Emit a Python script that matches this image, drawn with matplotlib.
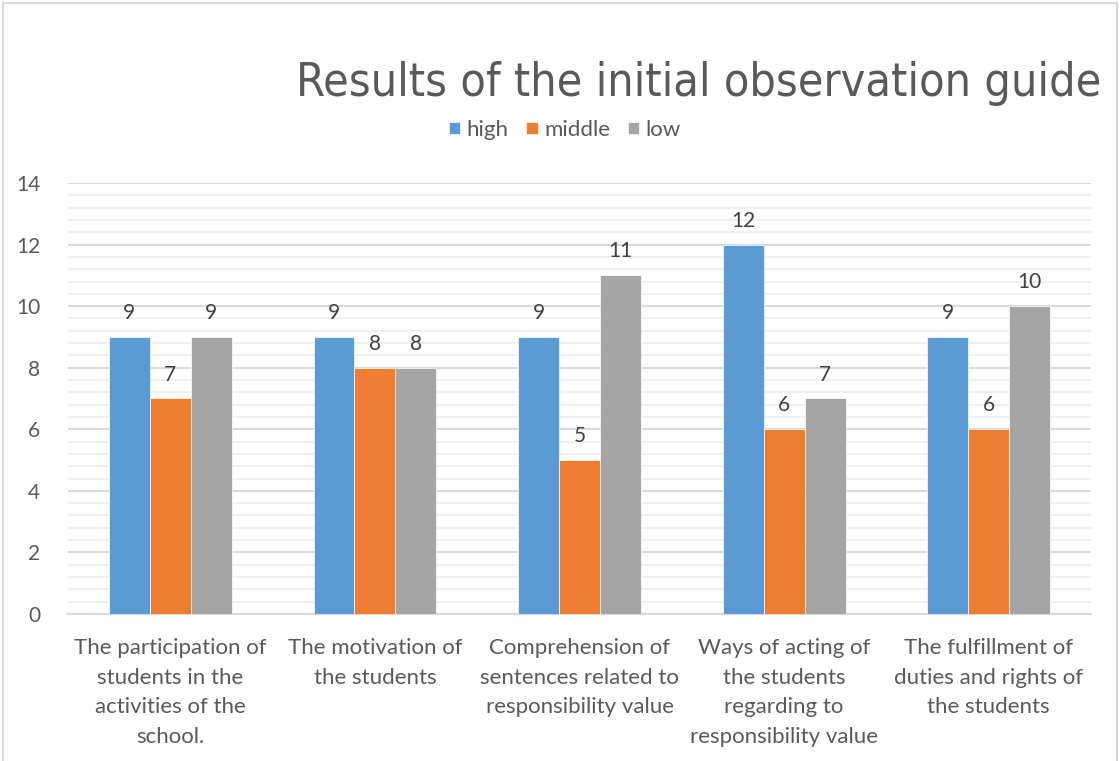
import numpy as np
import matplotlib.pyplot as plt
from matplotlib.patches import Rectangle
from matplotlib.ticker import MultipleLocator

categories = [
    "The participation of\nstudents in the\nactivities of the\nschool.",
    "The motivation of\nthe students",
    "Comprehension of\nsentences related to\nresponsibility value",
    "Ways of acting of\nthe students\nregarding to\nresponsibility value",
    "The fulfillment of\nduties and rights of\nthe students",
]
series_names = ["high", "middle", "low"]
high = [9, 9, 9, 12, 9]
middle = [7, 8, 5, 6, 6]
low = [9, 8, 11, 7, 10]

colors = ["#5B9BD5", "#ED7D31", "#A5A5A5"]
text_color = "#595959"
plt.rcParams['font.family'] = ['Lato', 'DejaVu Sans']

fig = plt.figure(figsize=(11.19, 7.61), dpi=100)
ax = fig.add_axes([0.0608, 0.1932, 0.9142, 0.5663])

# outer chart frame
fig.patches.append(Rectangle((3 / 1119, -0.1), 1114 / 1119, 1.1 - 3 / 761,
                             transform=fig.transFigure, fill=False,
                             edgecolor="#D9D9D9", linewidth=1.5))

x = np.arange(len(categories))
width = 0.2
for i, (vals, name) in enumerate(zip([high, middle, low], series_names)):
    bars = ax.bar(x + (i - 1) * width, vals, width, color=colors[i], label=name,
                  edgecolor="white", linewidth=0.5, zorder=3)
    for b, v in zip(bars, vals):
        ax.annotate(str(v), (b.get_x() + b.get_width() / 2, v),
                    xytext=(0, 10), textcoords="offset points",
                    ha="center", va="bottom", fontsize=15, color="#404040")

ax.set_xlim(-0.5, len(categories) - 0.5)
ax.set_ylim(0, 14)
ax.yaxis.set_major_locator(MultipleLocator(2))
ax.yaxis.set_minor_locator(MultipleLocator(0.4))
ax.grid(axis="y", which="major", color="#D9D9D9", linewidth=1.5, zorder=0)
ax.grid(axis="y", which="minor", color="#F0F0F0", linewidth=1.5, zorder=0)
for s in ["left", "right", "top"]:
    ax.spines[s].set_visible(False)
ax.spines["bottom"].set_color("#D9D9D9")
ax.spines["bottom"].set_linewidth(1.5)

ax.set_xticks(x)
ax.set_xticklabels(categories, fontsize=16, color=text_color, linespacing=1.62)
ax.tick_params(axis="x", length=0, pad=17)
ax.tick_params(axis="y", which="both", length=0, pad=20, labelsize=15,
               labelcolor=text_color)

fig.text(296 / 1119, 1 - 96 / 761, "Results of the initial observation guide",
         fontsize=33.5, color=text_color, ha="left", va="baseline",
         family=['Liberation Sans Narrow', 'DejaVu Sans'], fontstretch="condensed")

fig.legend(loc="center", bbox_to_anchor=(565 / 1119, 1 - 130 / 761), ncol=3,
           frameon=False, fontsize=16, handlelength=0.5, handleheight=0.5,
           handletextpad=0.3, columnspacing=0.8, labelcolor=text_color)

fig.savefig("out.png", dpi=100)
